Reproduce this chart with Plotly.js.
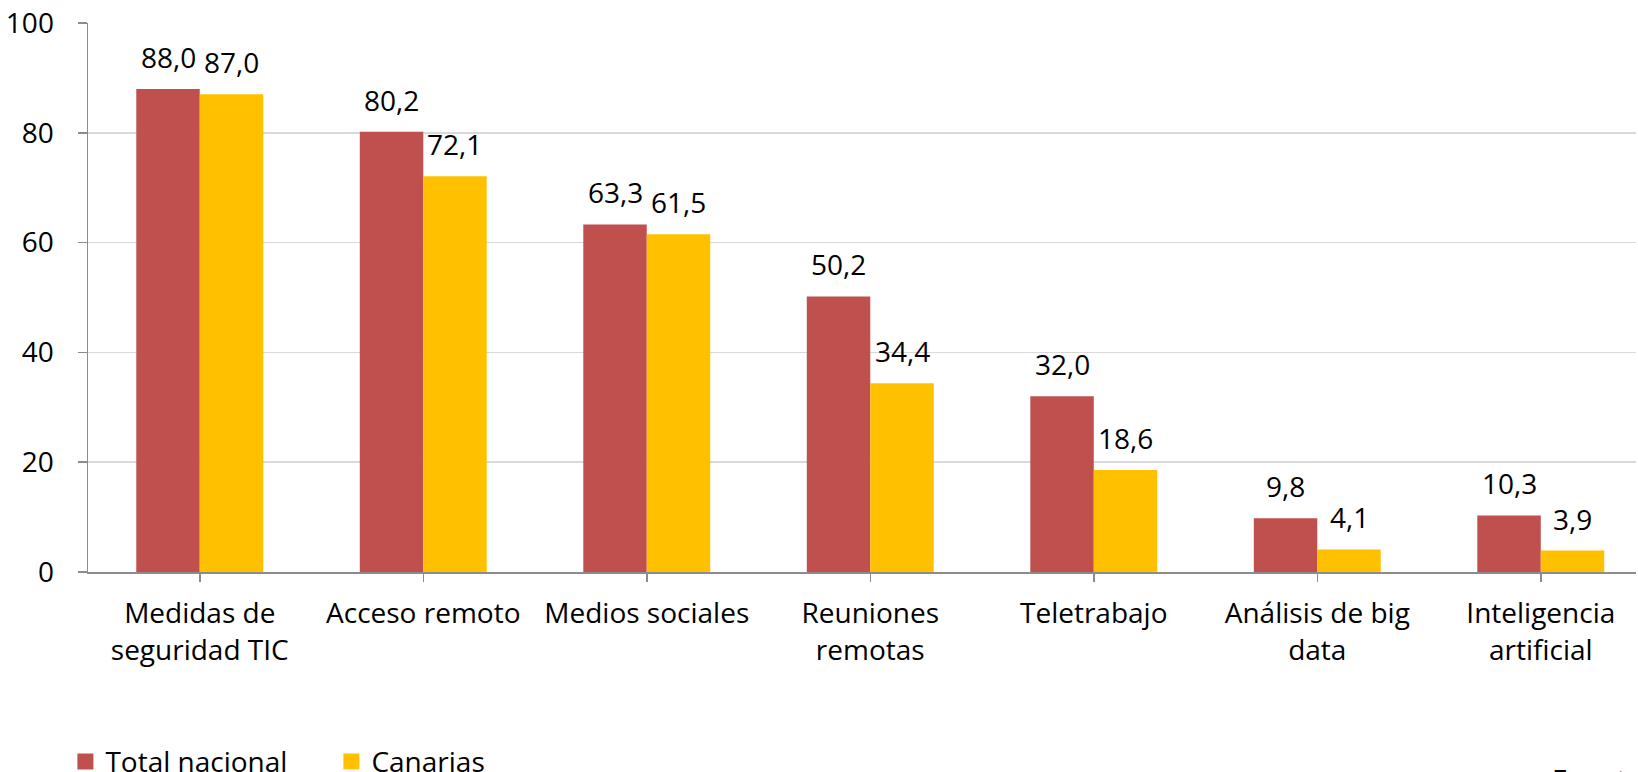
<!DOCTYPE html>
<html>
<head>
<meta charset="utf-8">
<script src="https://cdn.plot.ly/plotly-3.0.1.min.js"></script>
<style>html,body{margin:0;padding:0;background:#fff;}#chart{width:1638px;height:772px;}</style>
</head>
<body>
<div id="chart"></div>
<script>
var categories = ["Medidas de<br>seguridad TIC", "Acceso remoto", "Medios sociales", "Reuniones<br>remotas", "Teletrabajo", "Análisis de big<br>data", "Inteligencia<br>artificial"];
var seriesNames = ["Total nacional", "Canarias"];
var seriesColors = ["#C0504D", "#FFC000"];
var totalNacional = [88.0, 80.2, 63.3, 50.2, 32.0, 9.8, 10.3];
var canarias = [87.0, 72.1, 61.5, 34.4, 18.6, 4.1, 3.9];
var yTicks = [0, 20, 40, 60, 80, 100];

var W = 1638, H = 772;
var margin = {l: 88, r: 2, t: 23, b: 200};
var xRange = [-0.5, 6.426];
var bargap = 0.432;
var FONT = "Open Sans, Lato, sans-serif";
var FS = 28;

var plotW = W - margin.l - margin.r;
var plotH = H - margin.t - margin.b;
var catPx = plotW / (xRange[1] - xRange[0]);
var barPx = catPx * (1 - bargap) / 2;

function fmt(v){ return v.toFixed(1).replace('.', ','); }

var seriesValues = [totalNacional, canarias];
var traces = [];
seriesValues.forEach(function(vals, si){
  traces.push({type: 'bar', name: seriesNames[si], x: categories, y: vals,
    marker: {color: seriesColors[si]}, hoverinfo: 'y', showlegend: false});
});
// legend-only entries with larger square symbols
seriesNames.forEach(function(nm, si){
  traces.push({type: 'scatter', mode: 'markers', name: nm, x: [null], y: [null],
    marker: {symbol: 'square', size: 16, color: seriesColors[si]}, showlegend: true, hoverinfo: 'skip'});
});

var annotations = [];
seriesValues.forEach(function(arr, si){
  arr.forEach(function(v, i){
    annotations.push({
      x: categories[i], y: v, xref: 'x', yref: 'y',
      xshift: (si === 0 ? -1 : 1) * barPx / 2,
      yshift: 11,
      yanchor: 'bottom', xanchor: 'center',
      text: fmt(v), showarrow: false,
      font: {family: FONT, size: FS, color: '#000'}
    });
  });
});
annotations.push({
  xref: 'paper', yref: 'paper', x: (1550 - margin.l) / plotW, y: (572 - 758) / plotH,
  xanchor: 'left', yanchor: 'top', text: 'Fuente: INE', showarrow: false,
  font: {family: FONT, size: FS, color: '#000'}
});

var layout = {
  width: W, height: H,
  margin: {l: margin.l, r: margin.r, t: margin.t, b: margin.b, autoexpand: false},
  paper_bgcolor: '#fff', plot_bgcolor: '#fff',
  font: {family: FONT, size: FS, color: '#000'},
  barmode: 'group', bargap: bargap, bargroupgap: 0,
  showlegend: true,
  legend: {orientation: 'h', x: -0.0146, y: -0.30, xanchor: 'left', yanchor: 'top',
           font: {family: FONT, size: FS, color: '#000'}, entrywidth: 221, entrywidthmode: 'pixels',
           bgcolor: 'rgba(0,0,0,0)'},
  xaxis: {type: 'category', range: xRange, showgrid: false,
          showline: true, linecolor: '#8c8c8c', linewidth: 1.5,
          ticks: 'outside', ticklen: 8, tickcolor: '#8c8c8c', tickwidth: 1.5,
          ticklabelstandoff: 8,
          tickfont: {family: FONT, size: FS, color: '#000'}, fixedrange: true},
  yaxis: {range: [0, 100], tickvals: yTicks, showgrid: true, gridcolor: '#d9d9d9', gridwidth: 1.5,
          showline: true, linecolor: '#8c8c8c', linewidth: 1.5, zeroline: false,
          ticks: 'outside', ticklen: 9, tickcolor: '#8c8c8c', tickwidth: 1.5,
          ticklabelstandoff: 18,
          tickfont: {family: FONT, size: FS, color: '#000'}, fixedrange: true},
  separators: ',.',
  annotations: annotations
};

Plotly.newPlot('chart', traces, layout, {displayModeBar: false, staticPlot: true});
</script>
</body>
</html>
